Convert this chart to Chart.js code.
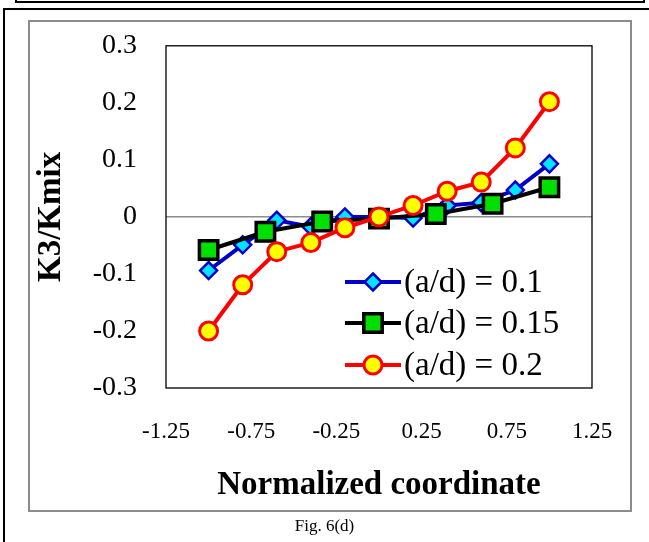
<!DOCTYPE html>
<html>
<head>
<meta charset="utf-8">
<script src="https://cdn.jsdelivr.net/npm/chart.js@4/dist/chart.umd.min.js"></script>
<style>
  html, body { margin: 0; padding: 0; background: #fff; overflow: hidden; }
  body { width: 649px; height: 542px; position: relative; }
  #prevBox { position: absolute; left: 15px; top: -20px; width: 626px; height: 21px;
    border: 2px solid #000; border-top: none; }
  #outerFrame { position: absolute; left: 3px; top: 8px; width: 700px; height: 600px;
    border-left: 2px solid #000; border-top: 2px solid #000; }
  #chartFrame { position: absolute; left: 28px; top: 20px; width: 600px; height: 488px;
    border: 2px solid #8c8c8c; }
  #c { position: absolute; left: 0; top: 0; }
  #caption { position: absolute; left: 0; width: 649px; top: 516px; text-align: center;
    font-family: "Liberation Serif", serif; font-size: 17px; color: #000; }
</style>
</head>
<body>
<div id="prevBox"></div>
<div id="outerFrame"></div>
<div id="chartFrame"></div>
<canvas id="c" width="649" height="542"></canvas>
<div id="caption">Fig. 6(d)</div>
<script>
// ---- data ----
const xFine = [-1, -0.8, -0.6, -0.4, -0.2, 0, 0.2, 0.4, 0.6, 0.8, 1];
const xCoarse = [-1, -2/3, -1/3, 0, 1/3, 2/3, 1];
const seriesNames = ['(a/d) = 0.1', '(a/d) = 0.15', '(a/d) = 0.2'];
const ad010 = [-0.094, -0.049, -0.006, -0.017, 0, 0, -0.002, 0.020, 0.025, 0.047, 0.093];
const ad015 = [-0.058, -0.026, -0.008, -0.003, 0.005, 0.023, 0.052];
const ad020 = [-0.200, -0.119, -0.061, -0.045, -0.019, 0, 0.020, 0.045, 0.061, 0.121, 0.202];
const xTickLabels = ['-1.25', '-0.75', '-0.25', '0.25', '0.75', '1.25'];
const yTickLabels = ['-0.3', '-0.2', '-0.1', '0', '0.1', '0.2', '0.3'];
const xTitle = 'Normalized coordinate';
const yTitle = 'K3/Kmix';

const pts = (xs, ys) => xs.map((x, i) => ({ x: x, y: ys[i] }));

const styles = [
  { line: '#0000c8', fill: '#00e5ff', shape: 'rectRot', r: 8.5, bw: 2.5 },
  { line: '#000000', fill: '#00e000', shape: 'rect', r: 13, bw: 3.5 },
  { line: '#ff0000', fill: '#ffff00', shape: 'circle', r: 9, bw: 3 }
];

function ds(i, data, order) {
  const s = styles[i];
  return {
    label: seriesNames[i], data: data, order: order,
    borderColor: s.line, borderWidth: 4, backgroundColor: s.fill,
    pointStyle: s.shape, pointRadius: s.r, pointHoverRadius: s.r,
    pointBackgroundColor: s.fill, pointBorderColor: s.line, pointBorderWidth: s.bw,
    tension: 0, fill: false, clip: false
  };
}

function drawMarker(ctx, s, x, y) {
  ctx.save();
  ctx.fillStyle = s.fill; ctx.strokeStyle = s.line; ctx.lineWidth = s.bw;
  ctx.beginPath();
  if (s.shape === 'circle') {
    ctx.arc(x, y, s.r, 0, Math.PI * 2);
  } else if (s.shape === 'rect') {
    const h = s.r * Math.SQRT1_2;
    ctx.rect(x - h, y - h, 2 * h, 2 * h);
  } else {
    ctx.moveTo(x, y - s.r); ctx.lineTo(x + s.r, y); ctx.lineTo(x, y + s.r); ctx.lineTo(x - s.r, y);
    ctx.closePath();
  }
  ctx.fill(); ctx.stroke();
  ctx.restore();
}

const framePlugin = {
  id: 'frame',
  beforeDatasetsDraw(chart) {
    const a = chart.chartArea, ctx = chart.ctx;
    ctx.save();
    ctx.strokeStyle = '#000'; ctx.lineWidth = 1.3;
    ctx.strokeRect(a.left, a.top, a.right - a.left, a.bottom - a.top);
    ctx.restore();
  }
};

const legendPlugin = {
  id: 'customLegend',
  afterDatasetsDraw(chart) {
    const ctx = chart.ctx;
    const x0 = 345, x1 = 401, xm = 373, tx = 404;
    const rows = [282, 323, 365];
    seriesNames.forEach((name, i) => {
      const s = styles[i], y = rows[i];
      ctx.save();
      ctx.strokeStyle = s.line; ctx.lineWidth = 4;
      ctx.beginPath(); ctx.moveTo(x0, y); ctx.lineTo(x1, y); ctx.stroke();
      ctx.restore();
      drawMarker(ctx, s, xm, y);
      ctx.save();
      ctx.fillStyle = '#000';
      ctx.font = '33px "Liberation Serif"';
      ctx.textBaseline = 'middle'; ctx.textAlign = 'left';
      ctx.fillText(name, tx, y + 1);
      ctx.restore();
    });
  }
};

new Chart(document.getElementById('c'), {
  type: 'line',
  data: {
    datasets: [
      ds(0, pts(xFine, ad010), 2),
      ds(1, pts(xCoarse, ad015), 1),
      ds(2, pts(xFine, ad020), 0)
    ]
  },
  options: {
    responsive: false, animation: false,
    layout: { padding: { left: 30, top: 44, right: 57, bottom: 31 } },
    plugins: { legend: { display: false }, tooltip: { enabled: false } },
    scales: {
      x: {
        type: 'linear', min: -1.25, max: 1.25,
        ticks: { stepSize: 0.5, autoSkip: false, maxRotation: 0, padding: 30, color: '#000',
          font: { family: 'Liberation Serif', size: 23 },
          callback: (v, i) => xTickLabels[i] },
        grid: { display: false, drawTicks: false },
        border: { display: false },
        title: { display: true, text: xTitle, color: '#000',
          font: { family: 'Liberation Serif', size: 33, weight: 'bold' },
          padding: { top: 0, bottom: 6 } },
        afterFit(scale) { scale.height = 123; }
      },
      y: {
        type: 'linear', min: -0.3, max: 0.3,
        ticks: { stepSize: 0.1, autoSkip: false, padding: 29, color: '#000',
          font: { family: 'Liberation Serif', size: 28 },
          callback: (v, i) => yTickLabels[i] },
        grid: { drawTicks: false, lineWidth: 1.5,
          color: (c) => (c.tick && Math.abs(c.tick.value) < 1e-9) ? '#8c8c8c' : 'rgba(0,0,0,0)' },
        border: { display: false },
        title: { display: true, text: yTitle, color: '#000',
          font: { family: 'Liberation Serif', size: 33, weight: 'bold' },
          padding: { top: 2, bottom: 0 } },
        afterFit(scale) { scale.width = 136; }
      }
    }
  },
  plugins: [framePlugin, legendPlugin]
});
</script>
</body>
</html>
